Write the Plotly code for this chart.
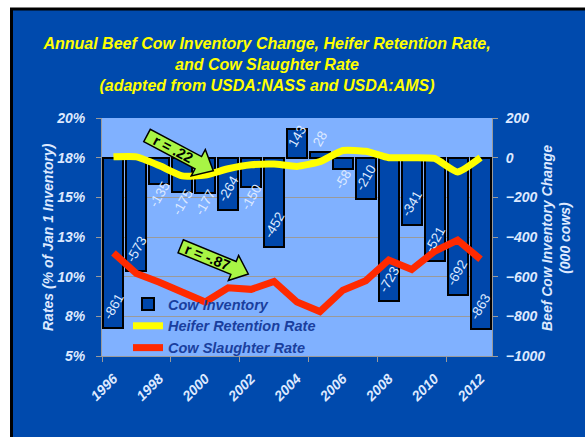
import plotly.graph_objects as go
import math

years = list(range(1996, 2013))
inventory_change = [-861, -573, -135, -175, -177, -264, -150, -452, 143, 28, -58, -210, -723, -341, -521, -692, -863]
heifer_retention = [17.55, 17.55, 17.0, 16.35, 16.4, 16.8, 17.05, 17.1, 16.95, 17.25, 17.95, 17.9, 17.5, 17.5, 17.45, 16.6, 17.5]
cow_slaughter = [11.5, 10.2, 9.65, 9.05, 8.4, 9.3, 9.2, 9.7, 8.4, 7.8, 9.15, 9.75, 11.05, 10.45, 11.6, 12.3, 11.1]
rate_ticks = [5, 7.5, 10, 12.5, 15, 17.5, 20]
rate_tick_labels = ["5%", "8%", "10%", "13%", "15%", "18%", "20%"]
inv_ticks = [-1000, -800, -600, -400, -200, 0, 200]
year_ticks = [1996, 1998, 2000, 2002, 2004, 2006, 2008, 2010, 2012]

W, H = 585, 437
L, R, T, B = 102, 93, 118, 81
PW, PH = W - L - R, H - T - B
FONT = "Arial, Liberation Sans, sans-serif"
LIGHT = "#dde9ff"
BLUE_BG = "#004aad"
PLOT_BG = "#80b1ff"
GRID = "#9a9a9a"

def px(x):
    return (x - L) / PW

def py(y):
    return 1 - (y - T) / PH

fig = go.Figure()
fig.add_trace(go.Bar(x=years, y=inventory_change, name="Cow Inventory", width=0.87,
                     marker=dict(color="#0047ab", line=dict(color="black", width=2)),
                     yaxis="y"))
fig.add_trace(go.Scatter(x=years, y=heifer_retention, name="Heifer Retention Rate", mode="lines",
                         line=dict(color="#ffff00", width=7, shape="spline", smoothing=0.5), yaxis="y2"))
fig.add_trace(go.Scatter(x=years, y=cow_slaughter, name="Cow Slaughter Rate", mode="lines",
                         line=dict(color="#ff2a00", width=7), yaxis="y2"))

annotations = []
# bar value labels
ppu = PH / 1200.0
for yr, v in zip(years, inventory_change):
    blen = abs(v) * ppu
    if blen >= 38:
        shift = 22 if v < 0 else -22
    elif v > 0 and blen >= 25:
        shift = -7
    else:
        shift = -10 if v < 0 else 14
    annotations.append(dict(x=yr, y=v, xref="x", yref="y", text=str(v), showarrow=False,
                            textangle=-60, yshift=shift, xanchor="center", yanchor="middle",
                            font=dict(family=FONT, size=13.5, color=LIGHT)))

# axis titles
annotations.append(dict(xref="paper", yref="paper", x=px(48), y=0.5, text="Rates (% of Jan 1 Inventory)",
                        textangle=-90, showarrow=False, xanchor="center", yanchor="middle",
                        font=dict(family=FONT, size=14, color=LIGHT, weight="bold", style="italic")))
annotations.append(dict(xref="paper", yref="paper", x=px(556), y=py(238),
                        text="Beef Cow Inventory Change<br>(000 cows)",
                        textangle=-90, showarrow=False, xanchor="center", yanchor="middle",
                        font=dict(family=FONT, size=14, color=LIGHT, weight="bold", style="italic")))

shapes = []
# background panel and plot area
shapes.append(dict(type="rect", xref="paper", yref="paper", layer="below",
                   x0=px(11.5), x1=px(600), y0=py(9), y1=py(450),
                   fillcolor=BLUE_BG, line=dict(color="black", width=3)))
shapes.append(dict(type="rect", xref="paper", yref="paper", layer="below",
                   x0=0, x1=1, y0=0, y1=1, fillcolor=PLOT_BG, line=dict(width=0)))

def arrow(tail, tip, bw, hw, hl, label):
    dx, dy = tip[0] - tail[0], tip[1] - tail[1]
    ln = math.hypot(dx, dy)
    ux, uy = dx / ln, dy / ln
    nx, ny = -uy, ux
    neck = (tip[0] - ux * hl, tip[1] - uy * hl)
    pts = [(tail[0] + nx * bw, tail[1] + ny * bw), (neck[0] + nx * bw, neck[1] + ny * bw),
           (neck[0] + nx * hw, neck[1] + ny * hw), tip,
           (neck[0] - nx * hw, neck[1] - ny * hw), (neck[0] - nx * bw, neck[1] - ny * bw),
           (tail[0] - nx * bw, tail[1] - ny * bw)]
    path = "M " + " L ".join(f"{px(a):.5f},{py(b):.5f}" for a, b in pts) + " Z"
    shapes.append(dict(type="path", xref="paper", yref="paper", path=path, layer="above",
                       fillcolor="#a8f545", line=dict(color="black", width=1.5)))
    ang = math.degrees(math.atan2(dy, dx))
    mid = ((tail[0] + neck[0]) / 2, (tail[1] + neck[1]) / 2)
    annotations.append(dict(xref="paper", yref="paper", x=px(mid[0]), y=py(mid[1]), text=label,
                            textangle=ang, showarrow=False, xanchor="center", yanchor="middle",
                            font=dict(family=FONT, size=14.5, color="black", weight="bold")))

arrow((147, 135.5), (213.3, 170.7), 7, 15, 17, "r = .22")
arrow((180.7, 246.3), (248.3, 274), 7, 13.5, 16, "r = -.87")

tickfont = dict(family=FONT, size=14, color=LIGHT, weight="bold", style="italic")
fig.update_layout(
    width=W, height=H, margin=dict(l=L, r=R, t=T, b=B),
    paper_bgcolor="white", plot_bgcolor="rgba(0,0,0,0)",
    font=dict(family=FONT),
    title=dict(text="Annual Beef Cow Inventory Change, Heifer Retention Rate,<br>and Cow Slaughter Rate<br>(adapted from USDA:NASS and USDA:AMS)",
               x=267 / W, xanchor="center", xref="container", yref="container",
               y=1 - 49 / H, yanchor="top",
               font=dict(family=FONT, size=16, color="#ffff00", weight="bold", style="italic")),
    xaxis=dict(range=[1995.5, 2012.5], tickmode="array", tickvals=year_ticks, tickangle=-45,
               ticks="", showline=True, linecolor=GRID, linewidth=1, showgrid=False, zeroline=False,
               ticklabelstandoff=8, tickfont=tickfont,
               minor=dict(tickmode="linear", tick0=1995.5, dtick=3, ticks="outside", ticklen=5,
                          tickcolor=GRID, showgrid=False)),
    yaxis=dict(range=[-1000, 200], tickmode="array", tickvals=inv_ticks, side="right",
               ticks="outside", ticklen=5, tickcolor=GRID, showline=True, linecolor=GRID,
               showgrid=True, gridcolor=GRID, gridwidth=1, zeroline=False,
               ticklabelstandoff=5, tickfont=tickfont),
    yaxis2=dict(range=[5, 20], tickmode="array", tickvals=rate_ticks, ticktext=rate_tick_labels,
                overlaying="y", side="left", ticks="outside", ticklen=5, tickcolor=GRID,
                showline=True, linecolor=GRID, showgrid=False, zeroline=False,
                ticklabelstandoff=8, tickfont=tickfont),
    legend=dict(x=px(128), y=py(288), xanchor="left", yanchor="top", bgcolor="rgba(0,0,0,0)",
                traceorder="normal", tracegroupgap=0,
                font=dict(family=FONT, size=14.5, color="#1a3f9e", weight="bold", style="italic")),
    showlegend=True, bargap=0,
    annotations=annotations, shapes=shapes,
)

fig.write_html("out.html")
